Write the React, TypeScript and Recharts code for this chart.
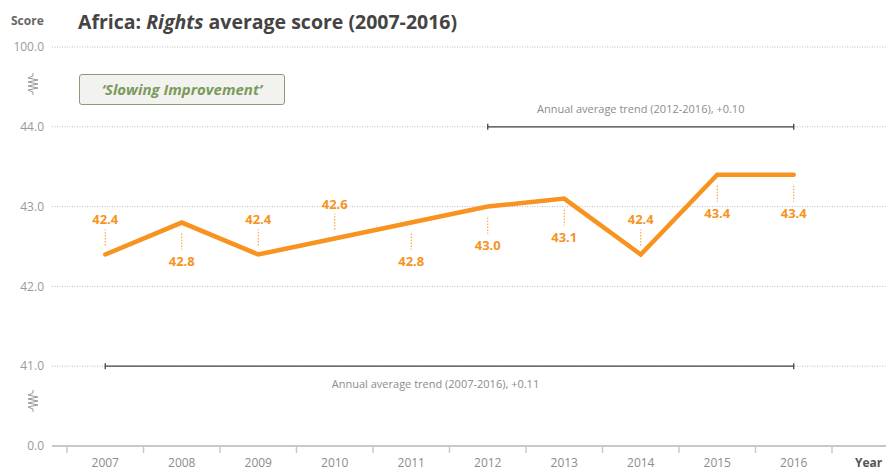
import {
  CartesianGrid,
  LabelList,
  Line,
  LineChart,
  ReferenceLine,
  XAxis,
  YAxis,
} from "recharts";

const years = ["2007", "2008", "2009", "2010", "2011", "2012", "2013", "2014", "2015", "2016"];
const rightsScore = [42.4, 42.8, 42.4, 42.6, 42.8, 43.0, 43.1, 42.4, 43.4, 43.4];

// broken axis: 40 stands for 0.0, 45 stands for 100.0
const yTicks = [40, 41, 42, 43, 44, 45];
const yTickLabels = ["0.0", "41.0", "42.0", "43.0", "44.0", "100.0"];

const trendShort = { from: "2012", to: "2016", level: 44, text: "Annual average trend (2012-2016), +0.10" };
const trendLong = { from: "2007", to: "2016", level: 41, text: "Annual average trend (2007-2016), +0.11" };

const data = years.map((year, i) => ({ year, score: rightsScore[i] }));

// which side of the line each value label sits on
const labelAbove = [true, false, true, true, false, false, false, true, false, false];

const ORANGE = "#F7931E";
const FONT = "'Open Sans', 'DejaVu Sans', sans-serif";

function XTick(props: any) {
  const { x, y, payload, index, visibleTicksCount } = props;
  const half = payload?.offset || 38.25;
  const last = index === visibleTicksCount - 1;
  return (
    <g>
      <line x1={x - half} x2={x - half} y1={y} y2={y + 7} stroke="#c8c8c8" strokeWidth={1.5} />
      {last && <line x1={x + half} x2={x + half} y1={y} y2={y + 7} stroke="#c8c8c8" strokeWidth={1.5} />}
      <text x={x} y={y + 21} textAnchor="middle" fill="#8c8c8c" fontSize={12} fontFamily={FONT}>
        {payload.value}
      </text>
    </g>
  );
}

function TrendShape(props: any) {
  const { x1, y1, x2, y2 } = props;
  return (
    <g>
      <line x1={x1} x2={x2} y1={y1} y2={y2} stroke="#3d4449" strokeWidth={1.3} />
      <line x1={x1} x2={x1} y1={y1 - 3} y2={y1 + 3} stroke="#3d4449" strokeWidth={1.3} />
      <line x1={x2} x2={x2} y1={y2 - 3} y2={y2 + 3} stroke="#3d4449" strokeWidth={1.3} />
    </g>
  );
}

function ValueLabel(props: any) {
  const { x, y, value, index } = props;
  const above = labelAbove[index];
  const c1 = above ? y - 9 : y + 11;
  const c2 = above ? y - 25 : y + 27;
  const ty = above ? y - 30 : y + 43;
  return (
    <g>
      <line x1={x} x2={x} y1={c1} y2={c2} stroke={ORANGE} strokeWidth={1} strokeDasharray="1.5 1.5" />
      <text x={x} y={ty} textAnchor="middle" fill={ORANGE} fontSize={13} fontWeight={700} fontFamily={FONT}>
        {Number(value).toFixed(1)}
      </text>
    </g>
  );
}

function Squiggle({ top }: { top: number }) {
  return (
    <svg style={{ position: "absolute", left: 26, top, width: 14, height: 22 }} viewBox="0 0 14 22">
      <polyline
        points="7,0 7,3 2,5 12,7 2,9 12,11 2,13 12,15 2,17 7,19 7,22"
        fill="none"
        stroke="#9a9a9a"
        strokeWidth={1}
      />
    </svg>
  );
}

export default function App() {
  return (
    <div style={{ position: "absolute", left: 0, top: 0, width: 886, height: 471, background: "#fff", fontFamily: FONT }}>
      <LineChart width={886} height={471} data={data} margin={{ top: 47, right: 0, bottom: 24, left: 0 }}>
        <CartesianGrid vertical={false} stroke="#bdbdbd" strokeDasharray="1 1.5" />
        <XAxis
          dataKey="year"
          scale="band"
          height={1}
          padding={{ left: 15, right: 54 }}
          axisLine={{ stroke: "#c8c8c8", strokeWidth: 2 }}
          tickLine={false}
          tickSize={0}
          tickMargin={0}
          tick={<XTick />}
          interval={0}
        />
        <YAxis
          width={52}
          domain={[40, 45]}
          ticks={yTicks}
          tickFormatter={(v: number) => yTickLabels[yTicks.indexOf(v)]}
          axisLine={false}
          tickLine={false}
          tick={{ fill: "#9a9a9a", fontSize: 12, fontFamily: FONT }}
          interval={0}
        />
        <ReferenceLine
          segment={[
            { x: trendShort.from, y: trendShort.level },
            { x: trendShort.to, y: trendShort.level },
          ]}
          shape={TrendShape}
          label={{ value: trendShort.text, position: "top", offset: 14, fill: "#8c8c8c", fontSize: 11, fontFamily: FONT }}
        />
        <ReferenceLine
          segment={[
            { x: trendLong.from, y: trendLong.level },
            { x: trendLong.to, y: trendLong.level },
          ]}
          shape={TrendShape}
          label={{ value: trendLong.text, position: "bottom", offset: 14, dx: -14, fill: "#8c8c8c", fontSize: 11, fontFamily: FONT }}
        />
        <Line
          type="linear"
          dataKey="score"
          stroke={ORANGE}
          strokeWidth={4.5}
          strokeLinecap="round"
          dot={false}
          activeDot={false}
          isAnimationActive={false}
        >
          <LabelList dataKey="score" content={<ValueLabel />} />
        </Line>
      </LineChart>

      <div style={{ position: "absolute", left: 11, top: 12, fontSize: 12, fontWeight: 700, color: "#666" }}>Score</div>
      <div style={{ position: "absolute", left: 78, top: 8, fontSize: 19.5, fontWeight: 700, color: "#444", whiteSpace: "nowrap" }}>
        Africa: <i>Rights</i> average score (2007-2016)
      </div>
      <div
        style={{
          position: "absolute",
          left: 79,
          top: 74,
          width: 204,
          height: 29,
          border: "1.5px solid #8b9c78",
          borderRadius: 3,
          background: "#f2f3ef",
          color: "#7c9a5e",
          fontSize: 15,
          fontWeight: 700,
          fontStyle: "italic",
          lineHeight: "29px",
          textAlign: "center",
        }}
      >
        ‘Slowing Improvement’
      </div>
      <div style={{ position: "absolute", left: 855, top: 457, fontSize: 12, lineHeight: "12px", fontWeight: 700, color: "#555" }}>
        Year
      </div>
      <Squiggle top={73} />
      <Squiggle top={390} />
    </div>
  );
}
